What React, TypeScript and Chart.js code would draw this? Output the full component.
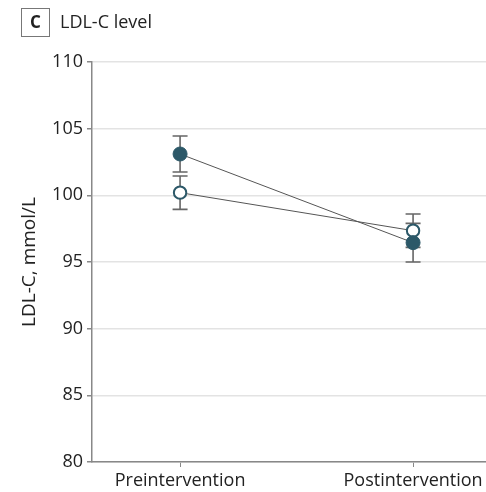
import React, { useEffect, useRef } from "react";
import { Chart, registerables } from "chart.js";

Chart.register(...registerables);

const categories = ["Preintervention", "Postintervention"];
const filledMeans = [103.1, 96.45];
const filledErr = [1.35, 1.45];
const openMeans = [100.2, 97.35];
const openErr = [1.25, 1.25];
const yTicks = [80, 85, 90, 95, 100, 105, 110];

const TEAL = "#2c5868";
const FONT = "'Open Sans', sans-serif";

const errorBarPlugin = {
  id: "errorBars",
  beforeDatasetsDraw(chart: any) {
    const { ctx } = chart;
    const xs = chart.scales.x;
    const ys = chart.scales.y;
    const groups = [
      { m: filledMeans, e: filledErr },
      { m: openMeans, e: openErr },
    ];
    ctx.save();
    ctx.strokeStyle = "#666";
    ctx.lineWidth = 1.6;
    groups.forEach((g) => {
      g.m.forEach((v, i) => {
        const x = xs.getPixelForValue(i);
        const yt = ys.getPixelForValue(v + g.e[i]);
        const yb = ys.getPixelForValue(v - g.e[i]);
        ctx.beginPath();
        ctx.moveTo(x, yt);
        ctx.lineTo(x, yb);
        ctx.moveTo(x - 7.5, yt);
        ctx.lineTo(x + 7.5, yt);
        ctx.moveTo(x - 7.5, yb);
        ctx.lineTo(x + 7.5, yb);
        ctx.stroke();
      });
    });
    ctx.restore();
  },
};

const titlePlugin = {
  id: "panelTitle",
  afterDraw(chart: any) {
    const { ctx } = chart;
    ctx.save();
    ctx.strokeStyle = "#777";
    ctx.lineWidth = 1;
    ctx.strokeRect(21.5, 8.5, 28, 28);
    ctx.fillStyle = "#222";
    ctx.textBaseline = "middle";
    ctx.textAlign = "center";
    ctx.font = `bold 17px ${FONT}`;
    ctx.fillText("C", 35.5, 23);
    ctx.textAlign = "left";
    ctx.font = `18px ${FONT}`;
    ctx.fillText("LDL-C level", 60, 23);
    ctx.restore();
  },
};

export default function App() {
  const ref = useRef<HTMLCanvasElement>(null);
  useEffect(() => {
    document.body.style.margin = "0";
    const chart = new Chart(ref.current as HTMLCanvasElement, {
      type: "line",
      data: {
        datasets: [
          {
            label: "Filled",
            data: filledMeans.map((v, i) => ({ x: i, y: v })),
            borderColor: "#555",
            borderWidth: 1,
            pointRadius: 7,
            pointBackgroundColor: TEAL,
            pointBorderColor: TEAL,
            pointBorderWidth: 1,
          },
          {
            label: "Open",
            data: openMeans.map((v, i) => ({ x: i, y: v })),
            borderColor: "#555",
            borderWidth: 1,
            pointRadius: 6.2,
            pointBackgroundColor: "#fff",
            pointBorderColor: TEAL,
            pointBorderWidth: 2,
          },
        ],
      },
      options: {
        animation: false,
        responsive: false,
        layout: { autoPadding: false, padding: { top: 62, right: 0, left: 0, bottom: 0 } },
        plugins: { legend: { display: false }, tooltip: { enabled: false } },
        scales: {
          x: {
            type: "linear",
            min: -0.378,
            max: 1.313,
            afterBuildTicks: (s: any) => {
              s.ticks = categories.map((_, i) => ({ value: i }));
            },
            afterFit: (s: any) => {
              s.height = 30;
              s.paddingLeft = 0;
              s.paddingRight = 0;
            },
            ticks: {
              callback: (v: any) => categories[v as number] ?? "",
              color: "#222",
              font: { family: FONT, size: 18 },
              padding: 3,
              maxRotation: 0,
            },
            grid: {
              drawOnChartArea: false,
              drawTicks: true,
              tickLength: 5,
              tickColor: "#888",
            },
            border: { color: "#888", width: 1.5 },
          },
          y: {
            min: 80,
            max: 110,
            afterBuildTicks: (s: any) => {
              s.ticks = yTicks.map((v) => ({ value: v }));
            },
            afterFit: (s: any) => {
              s.width = 92;
            },
            ticks: {
              color: "#222",
              font: { family: FONT, size: 18 },
              padding: 4,
            },
            grid: {
              color: "#e3e3e3",
              lineWidth: 1.5,
              tickLength: 5,
              tickColor: "#888",
            },
            border: { color: "#888", width: 1.5 },
            title: {
              display: true,
              text: "LDL-C, mmol/L",
              color: "#222",
              font: { family: FONT, size: 19 },
              padding: { top: 18, bottom: 0 },
            },
          },
        },
      },
      plugins: [errorBarPlugin, titlePlugin],
    } as any);
    return () => chart.destroy();
  }, []);
  return <canvas ref={ref} width={486} height={492} style={{ display: "block" }} />;
}
